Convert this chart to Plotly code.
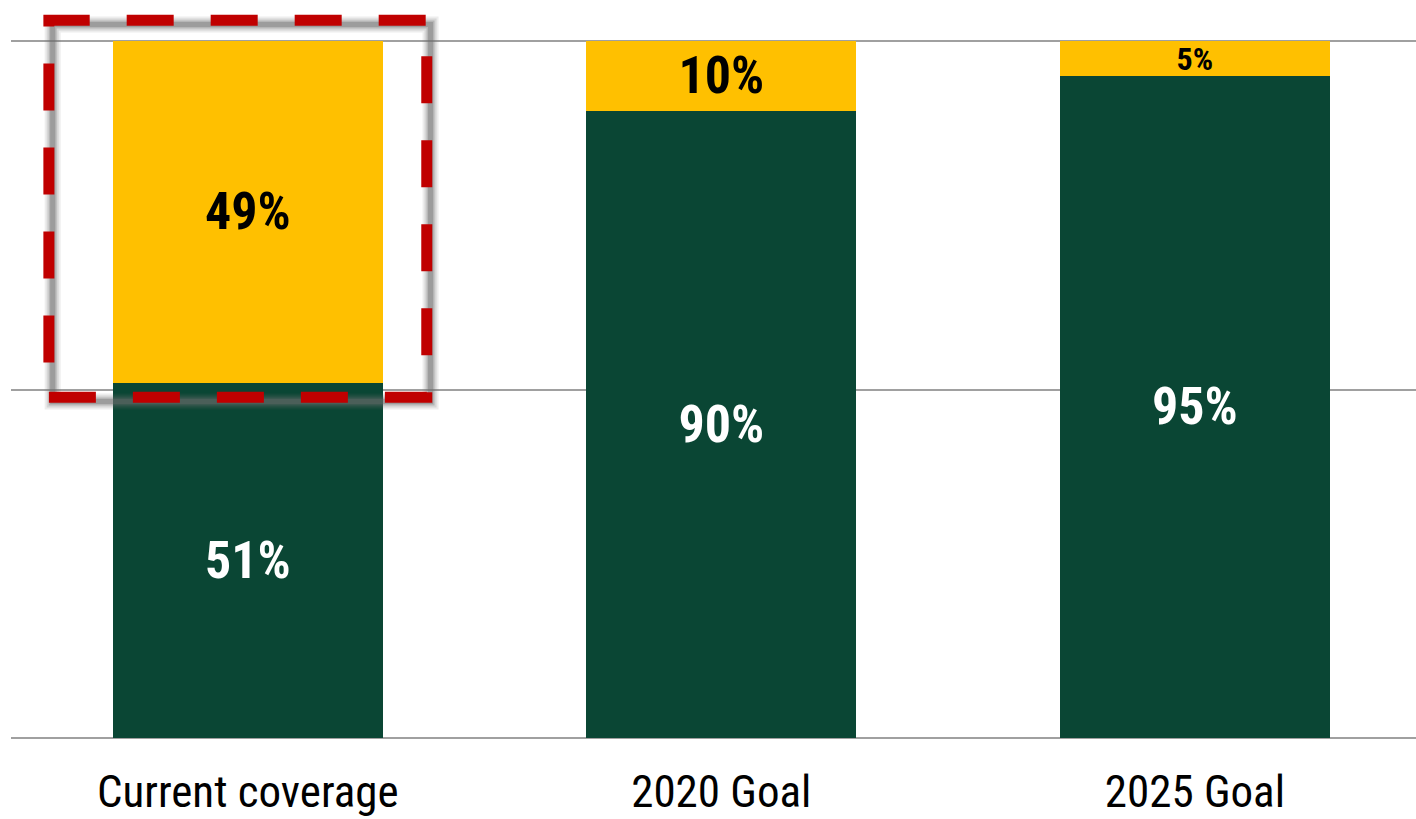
import plotly.graph_objects as go

categories = ["Current coverage", "2020 Goal", "2025 Goal"]
covered = [51, 90, 95]
gap = [49, 10, 5]
gap_label_sizes = [52, 52, 32]

GREEN = "#0A4634"
YELLOW = "#FFC000"
NARROW = "Liberation Sans Narrow, Arial Narrow, Roboto Condensed, Arial, sans-serif"

fig = go.Figure()
fig.add_trace(go.Bar(
    x=categories, y=covered, marker=dict(color=GREEN, line=dict(width=0)),
    text=[f"{v}%" for v in covered], textposition="inside",
    insidetextanchor="middle", textangle=0, constraintext="none",
    textfont=dict(family=NARROW, size=52, color="white", weight="bold"),
    width=0.57, hoverinfo="skip",
))
fig.add_trace(go.Bar(
    x=categories, y=gap, marker=dict(color=YELLOW, line=dict(width=0)),
    text=[f"{v}%" for v in gap], textposition="inside",
    insidetextanchor="middle", textangle=0, constraintext="none",
    textfont=dict(family=NARROW, size=gap_label_sizes, color="black", weight="bold"),
    width=0.57, hoverinfo="skip",
))

# highlight frame around the current coverage gap: soft grey shadow, red dashes on top
x0, x1, y0, y1 = -0.42, 0.378, 48.9, 103.0
dx, dy = 0.008, -0.6
shapes = []
for w, a in [(16, 0.12), (12, 0.18), (8, 0.3), (5, 0.35)]:
    shapes.append(dict(type="rect", xref="x", yref="y",
                       x0=x0 + dx, x1=x1 + dx, y0=y0 + dy, y1=y1 + dy,
                       line=dict(color=f"rgba(110,110,110,{a})", width=w),
                       layer="above"))
shapes.append(dict(type="rect", xref="x", yref="y", x0=x0, x1=x1, y0=y0, y1=y1,
                   line=dict(color="#C00000", width=11, dash="47px,37px"),
                   layer="above"))

fig.update_layout(
    barmode="stack",
    width=1416, height=819,
    margin=dict(l=11, r=0, t=0, b=74, autoexpand=False),
    paper_bgcolor="white", plot_bgcolor="white",
    showlegend=False,
    bargap=0.43,
    shapes=shapes,
    xaxis=dict(
        range=[-0.5, 2.467], showgrid=False, zeroline=False, showline=False,
        ticks="outside", ticklen=7, tickcolor="rgba(0,0,0,0)", automargin=False,
        tickfont=dict(family=NARROW, size=45, color="#000000"),
    ),
    yaxis=dict(
        range=[-1, 105.9], tickvals=[0, 50, 100], showticklabels=False,
        showgrid=True, gridcolor="#A0A0A0", gridwidth=1.5, automargin=False,
        zeroline=False, showline=False,
    ),
)

fig.write_html("out.html")
